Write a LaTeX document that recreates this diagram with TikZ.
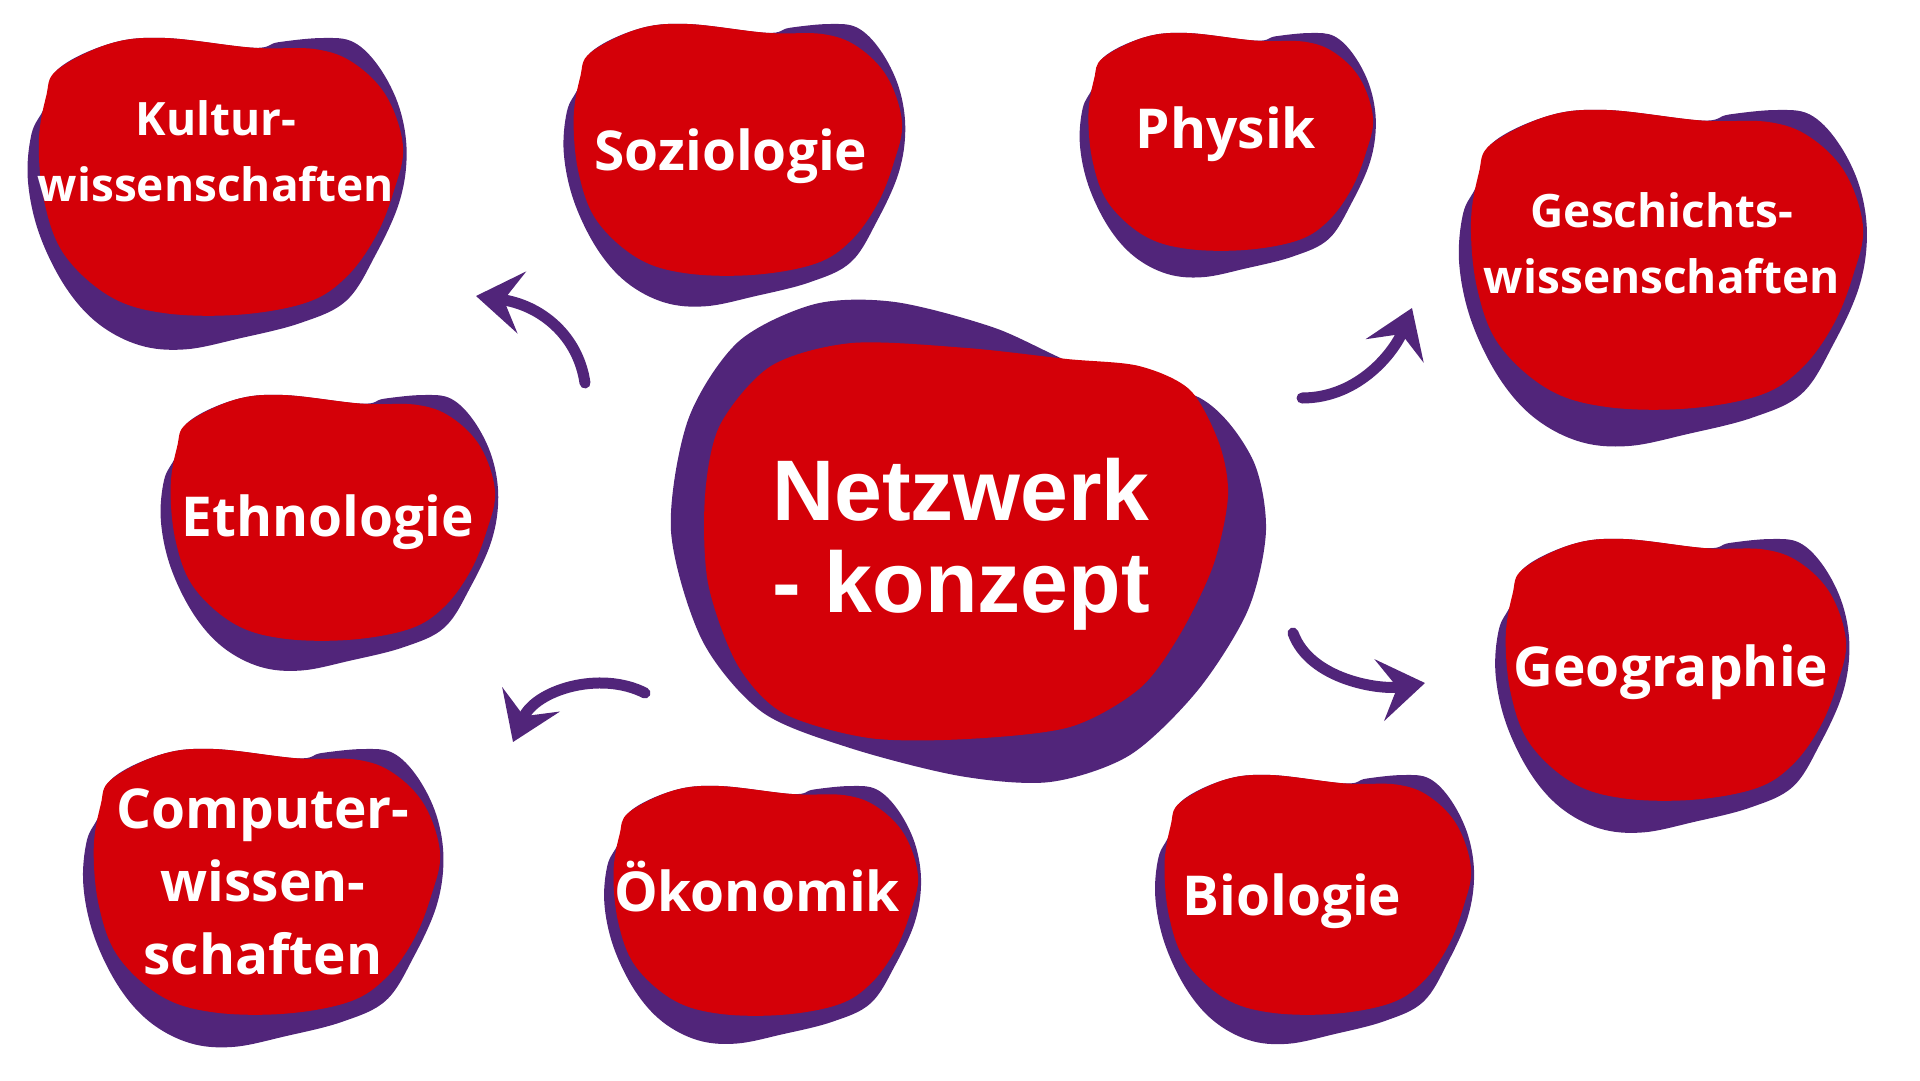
\documentclass[tikz,border=0pt]{standalone}
\usepackage{fontspec}
\setmainfont{Open Sans}
\newfontfamily\hubfont{Liberation Sans}
\usetikzlibrary{arrows.meta,positioning}
\definecolor{nkred}{RGB}{212,0,8}
\definecolor{nkpurple}{RGB}{81,37,122}
\tikzset{
  subject/.style={align=center, text=white, inner sep=0pt, font=\bfseries\fontsize{55}{73}\selectfont},
  longsubject/.style={subject, font=\bfseries\fontsize{46}{66}\selectfont},
  hub/.style={align=center, text=white, inner sep=0pt, font=\hubfont\bfseries\fontsize{86}{92}\selectfont},
  brush/.style={-{Stealth[length=46pt, width=62pt, inset=18pt]}, line width=11pt, line cap=round, draw=nkpurple},
  shade/.style={fill=nkpurple},
  face/.style={fill=nkred}
}
\begin{document}
\begin{tikzpicture}[x=1pt,y=-1pt]
\useasboundingbox (0,0) rectangle (1920,1080);
\fill[shade] plot[smooth cycle] coordinates {(671,531) (688,420) (738,342) (815,304) (895,302) (995,328) (1085,368) (1200,398) (1252,458) (1266,530) (1248,610) (1198,690) (1130,755) (1050,782) (960,776) (850,748) (762,712) (702,640)};
\fill[face] plot[smooth cycle] coordinates {(720,425) (771,366) (852,343) (967,348) (1067,359) (1139,366) (1190,390) (1219,443) (1228,496) (1213,566) (1179,636) (1139,689) (1070,727) (967,739) (869,738) (783,713) (737,664) (708,583) (705,496)};
\foreach \cx/\cy/\hw/\hh in {220/177/183/139, 737/150/165/126, 1230/142/143/109, 1666/260/197/150, 332/518/163/123, 1675/670/171/131, 266/882/174/133, 765/901/153/115, 1317/895/154/120}{
  \begin{scope}[shift={(\cx,\cy)}, xscale=\hw, yscale=\hh]
    \fill[shade] plot[smooth cycle, tension=0.6] coordinates {(-0.89,-0.77) (-0.60,-0.96) (-0.30,-1.0) (0.18,-0.93) (0.32,-0.97) (0.56,-1.0) (0.73,-0.97) (0.87,-0.79) (0.98,-0.50) (1.02,-0.17) (0.98,0.18) (0.85,0.56) (0.69,0.89) (0.44,1.05) (0.11,1.16) (-0.19,1.24) (-0.44,1.21) (-0.67,1.05) (-0.85,0.78) (-0.99,0.40) (-1.05,0.02) (-1.03,-0.31) (-0.96,-0.50)};
    \fill[face] plot[smooth cycle, tension=0.6] coordinates {(-0.89,-0.77) (-0.60,-0.96) (-0.30,-1.0) (0.18,-0.93) (0.52,-0.92) (0.73,-0.82) (0.91,-0.58) (1.0,-0.22) (0.95,0.10) (0.85,0.43) (0.69,0.72) (0.48,0.90) (0.11,0.99) (-0.30,0.98) (-0.60,0.86) (-0.85,0.56) (-0.96,0.18) (-0.99,-0.25) (-0.95,-0.58)};
  \end{scope}
}
\node[hub] (net) at (961,544) {Netzwerk\\- konzept};
\node[longsubject] (kul) at (216,151) {Kultur-\\wissenschaften};
\node[subject] (soz) at (731,156) {Soziologie};
\node[subject] (phy) at (1226,134) {Physik};
\node[longsubject] (ges) at (1662,243) {Geschichts-\\wissenschaften};
\node[subject] (eth) at (328,522) {Ethnologie};
\node[subject] (geo) at (1671,672) {Geographie};
\node[subject] (com) at (263,882) {Computer-\\wissen-\\schaften};
\node[subject] (oek) at (757,887) {Ökonomik};
\node[subject] (bio) at (1292,901) {Biologie};
\coordinate (aks) at (585,383); \coordinate (ake) at (476,296);
\coordinate (acs) at (645,693); \coordinate (ace) at (513,742);
\coordinate (ags) at (1302,398); \coordinate (age) at (1412,308);
\coordinate (ars) at (1293,633); \coordinate (are) at (1425,683);
\draw[brush] (aks) .. controls (578,335) and (540,305) .. (ake);
\draw[brush] (acs) .. controls (600,670) and (535,690) .. (ace);
\draw[brush] (ags) .. controls (1360,398) and (1395,350) .. (age);
\draw[brush] (ars) .. controls (1310,680) and (1380,690) .. (are);
\end{tikzpicture}
\end{document}
